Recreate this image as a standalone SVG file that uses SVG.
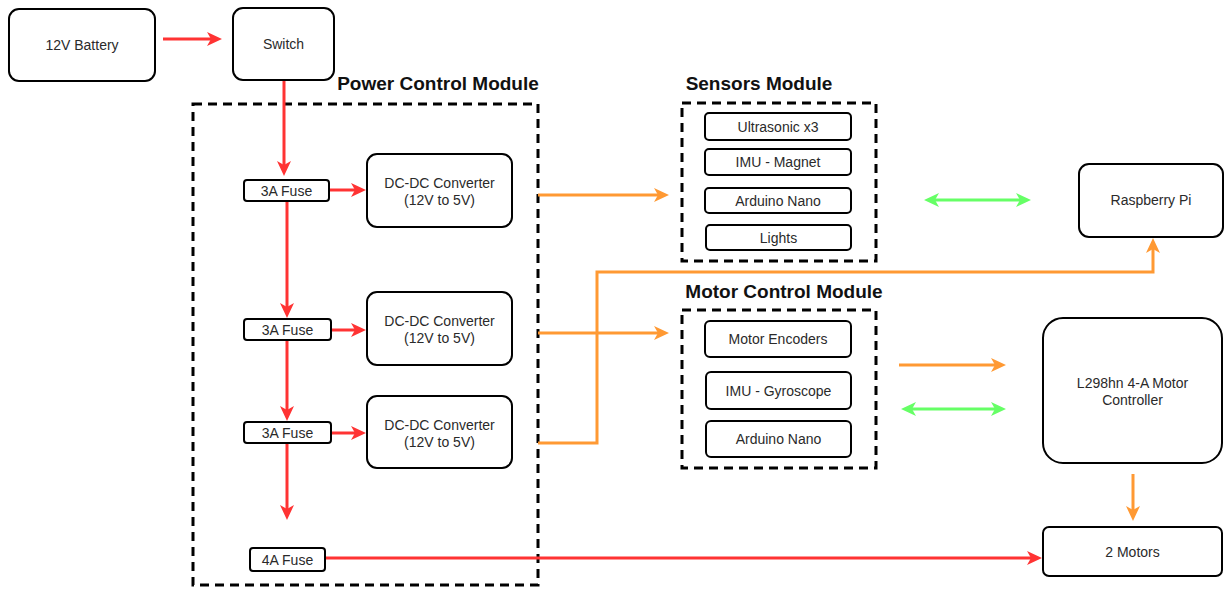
<svg xmlns="http://www.w3.org/2000/svg" width="1225" height="592" viewBox="0 0 1225 592">
  <style>
    .box { fill: #ffffff; stroke: #000000; stroke-width: 2; }
    .module { fill: none; stroke: #000000; stroke-width: 3; stroke-dasharray: 9 6; }
    .lbl { font-family: "Liberation Sans", Arial, sans-serif; font-size: 14px; fill: #2a2a2a; text-anchor: middle; }
    .title { font-family: "Liberation Sans", Arial, sans-serif; font-size: 19px; font-weight: bold; fill: #111111; text-anchor: middle; }
    .red { fill: none; stroke: #ff3333; stroke-width: 3; }
    .orange { fill: none; stroke: #ff9933; stroke-width: 3; }
    .green { fill: none; stroke: #66ff66; stroke-width: 3; }
  </style>
  <defs>
    <marker id="arrowRed" markerUnits="userSpaceOnUse" markerWidth="16" markerHeight="16" refX="4" refY="7" orient="auto-start-reverse">
      <path d="M0,0 L15,7 L0,14 L4,7 z" fill="#ff3333"/>
    </marker>
    <marker id="arrowOrange" markerUnits="userSpaceOnUse" markerWidth="16" markerHeight="16" refX="4" refY="7" orient="auto-start-reverse">
      <path d="M0,0 L15,7 L0,14 L4,7 z" fill="#ff9933"/>
    </marker>
    <marker id="arrowGreen" markerUnits="userSpaceOnUse" markerWidth="16" markerHeight="16" refX="4" refY="7" orient="auto-start-reverse">
      <path d="M0,0 L15,7 L0,14 L4,7 z" fill="#66ff66"/>
    </marker>
  </defs>

  <rect width="1225" height="592" fill="#ffffff"/>

  <!-- module frames and titles -->
  <g id="power-module">
    <rect class="module" x="193" y="104" width="345" height="481"/>
    <text class="title" x="438" y="90">Power Control Module</text>
  </g>
  <g id="sensors-module">
    <rect class="module" x="682" y="103" width="194" height="158"/>
    <text class="title" x="759" y="90">Sensors Module</text>
  </g>
  <g id="motor-module">
    <rect class="module" x="682" y="310" width="194" height="158"/>
    <text class="title" x="784" y="298">Motor Control Module</text>
  </g>

  <!-- connectors (path ends sit 11px short of the arrow tip) -->
  <g id="connectors">
    <!-- power (red) -->
    <path class="red" d="M163,39 H211" marker-end="url(#arrowRed)"/>
    <path class="red" d="M284,80 V165" marker-end="url(#arrowRed)"/>
    <path class="red" d="M329,190 H355" marker-end="url(#arrowRed)"/>
    <path class="red" d="M287,201 V307" marker-end="url(#arrowRed)"/>
    <path class="red" d="M331,330 H355" marker-end="url(#arrowRed)"/>
    <path class="red" d="M287,341 V410" marker-end="url(#arrowRed)"/>
    <path class="red" d="M331,433 H355" marker-end="url(#arrowRed)"/>
    <path class="red" d="M287,444 V509" marker-end="url(#arrowRed)"/>
    <path class="red" d="M325,558 H1031" marker-end="url(#arrowRed)"/>
    <!-- 5V supply (orange) -->
    <path class="orange" d="M538,195 H658" marker-end="url(#arrowOrange)"/>
    <path class="orange" d="M538,333 H658" marker-end="url(#arrowOrange)"/>
    <path class="orange" d="M538,443 H597 V272 H1153 V249" marker-end="url(#arrowOrange)"/>
    <path class="orange" d="M899,365 H995" marker-end="url(#arrowOrange)"/>
    <path class="orange" d="M1133,474 V510" marker-end="url(#arrowOrange)"/>
    <!-- data links (green) -->
    <path class="green" d="M935,200 H1020" marker-start="url(#arrowGreen)" marker-end="url(#arrowGreen)"/>
    <path class="green" d="M912,409 H995" marker-start="url(#arrowGreen)" marker-end="url(#arrowGreen)"/>
  </g>

  <!-- supply chain -->
  <g id="battery">
    <rect class="box" x="9" y="9" width="146" height="72" rx="10"/>
    <text class="lbl" x="82" y="50">12V Battery</text>
  </g>
  <g id="switch">
    <rect class="box" x="233" y="8" width="101" height="72" rx="10"/>
    <text class="lbl" x="283.5" y="49">Switch</text>
  </g>

  <!-- power control module contents -->
  <g id="fuse-1">
    <rect class="box" x="244" y="180" width="85" height="21" rx="3"/>
    <text class="lbl" x="286.5" y="195.5">3A Fuse</text>
  </g>
  <g id="converter-1">
    <rect class="box" x="367" y="154" width="145" height="73" rx="10"/>
    <text class="lbl" x="439.5" y="188">DC-DC Converter</text>
    <text class="lbl" x="439.5" y="205">(12V to 5V)</text>
  </g>
  <g id="fuse-2">
    <rect class="box" x="244" y="319" width="87" height="21" rx="3"/>
    <text class="lbl" x="287.5" y="334.5">3A Fuse</text>
  </g>
  <g id="converter-2">
    <rect class="box" x="367" y="292" width="145" height="73" rx="10"/>
    <text class="lbl" x="439.5" y="326">DC-DC Converter</text>
    <text class="lbl" x="439.5" y="343">(12V to 5V)</text>
  </g>
  <g id="fuse-3">
    <rect class="box" x="244" y="422" width="87" height="21" rx="3"/>
    <text class="lbl" x="287.5" y="437.5">3A Fuse</text>
  </g>
  <g id="converter-3">
    <rect class="box" x="367" y="396" width="145" height="72" rx="10"/>
    <text class="lbl" x="439.5" y="430">DC-DC Converter</text>
    <text class="lbl" x="439.5" y="447">(12V to 5V)</text>
  </g>
  <g id="fuse-4">
    <rect class="box" x="250" y="548" width="75" height="23" rx="3"/>
    <text class="lbl" x="287.5" y="564.5">4A Fuse</text>
  </g>

  <!-- sensors module contents -->
  <g id="ultrasonic">
    <rect class="box" x="705" y="113" width="146" height="27" rx="4"/>
    <text class="lbl" x="778" y="131.5">Ultrasonic x3</text>
  </g>
  <g id="imu-magnet">
    <rect class="box" x="705" y="149" width="146" height="26" rx="4"/>
    <text class="lbl" x="778" y="167">IMU - Magnet</text>
  </g>
  <g id="arduino-sensors">
    <rect class="box" x="705" y="188" width="146" height="25" rx="4"/>
    <text class="lbl" x="778" y="205.5">Arduino Nano</text>
  </g>
  <g id="lights">
    <rect class="box" x="706" y="225" width="145" height="25" rx="4"/>
    <text class="lbl" x="778.5" y="242.5">Lights</text>
  </g>

  <!-- motor control module contents -->
  <g id="motor-encoders">
    <rect class="box" x="705" y="321" width="146" height="36" rx="5"/>
    <text class="lbl" x="778" y="344">Motor Encoders</text>
  </g>
  <g id="imu-gyro">
    <rect class="box" x="706" y="372" width="145" height="37" rx="5"/>
    <text class="lbl" x="778.5" y="395.5">IMU - Gyroscope</text>
  </g>
  <g id="arduino-motors">
    <rect class="box" x="706" y="421" width="145" height="36" rx="5"/>
    <text class="lbl" x="778.5" y="444">Arduino Nano</text>
  </g>

  <!-- controllers and actuators -->
  <g id="raspberry-pi">
    <rect class="box" x="1079" y="164" width="144" height="73" rx="10"/>
    <text class="lbl" x="1151" y="205">Raspberry Pi</text>
  </g>
  <g id="motor-controller">
    <rect class="box" x="1043" y="318" width="179" height="145" rx="20"/>
    <text class="lbl" x="1132.5" y="388">L298hn 4-A Motor</text>
    <text class="lbl" x="1132.5" y="405">Controller</text>
  </g>
  <g id="motors">
    <rect class="box" x="1043" y="527" width="179" height="49" rx="6"/>
    <text class="lbl" x="1132.5" y="556.5">2 Motors</text>
  </g>
</svg>
